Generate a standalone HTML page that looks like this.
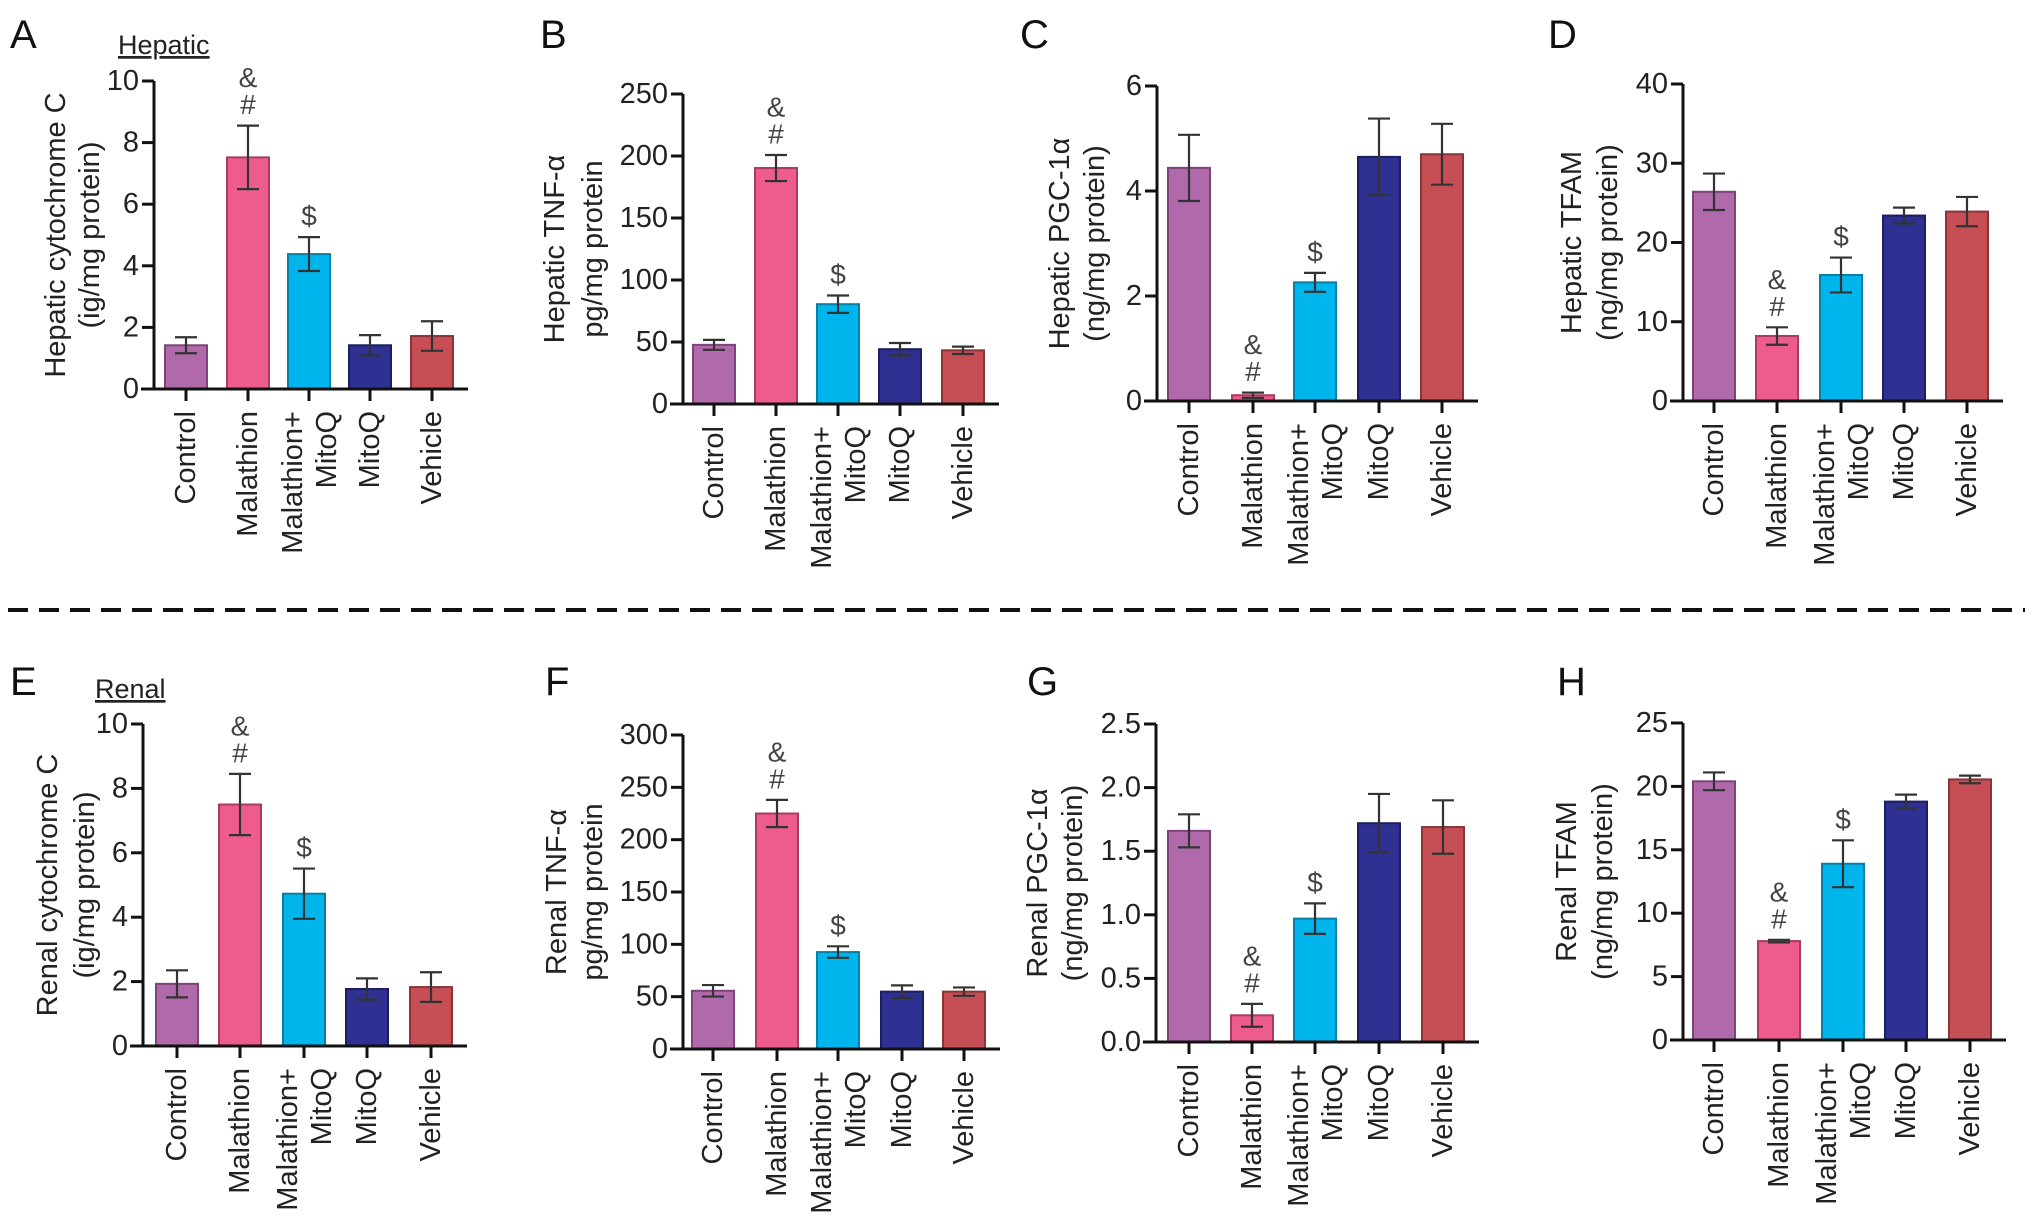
<!DOCTYPE html>
<html><head><meta charset="utf-8"><style>
html,body{margin:0;padding:0;background:#fff;}
svg{display:block;font-family:"Liberation Sans",Arial,sans-serif;}
</style></head><body>
<svg id="fig" width="2032" height="1227" viewBox="0 0 2032 1227" xmlns="http://www.w3.org/2000/svg">
<text x="10" y="48" font-size="40" fill="#111">A</text>
<text x="540" y="48" font-size="40" fill="#111">B</text>
<text x="1020" y="48" font-size="40" fill="#111">C</text>
<text x="1548" y="48" font-size="40" fill="#111">D</text>
<text x="10" y="695" font-size="40" fill="#111">E</text>
<text x="545" y="695" font-size="40" fill="#111">F</text>
<text x="1027" y="695" font-size="40" fill="#111">G</text>
<text x="1557" y="695" font-size="40" fill="#111">H</text>
<text x="118" y="54" font-size="27" fill="#222" text-decoration="underline">Hepatic</text>
<text x="95" y="698" font-size="27" fill="#222" text-decoration="underline">Renal</text>
<line x1="8" y1="610" x2="2025" y2="610" stroke="#111" stroke-width="4" stroke-dasharray="20,11"/>
</svg>
<script>
const categories = ["Control","Malathion","Malathion+|MitoQ","MitoQ","Vehicle"];
const colors = ["#b06aab","#ee5c8b","#00b4ec","#2e3192","#c54f54"];
const edges = ["#7c4478","#a83c60","#0a7fa6","#1c1f5e","#8a3438"];

const aMeans = [1.42, 7.52, 4.38, 1.42, 1.72];
const aErr = [0.26, 1.03, 0.55, 0.33, 0.48];
const aTicks = [0, 2, 4, 6, 8, 10];
const bMeans = [47.7, 190.3, 80.5, 44.2, 43.3];
const bErr = [4, 10.5, 7, 5, 3];
const bTicks = [0, 50, 100, 150, 200, 250];
const cMeans = [4.44, 0.11, 2.26, 4.65, 4.70];
const cErr = [0.63, 0.05, 0.18, 0.73, 0.58];
const cTicks = [0, 2, 4, 6];
const dMeans = [26.4, 8.2, 15.9, 23.4, 23.9];
const dErr = [2.3, 1.1, 2.2, 1.0, 1.85];
const dTicks = [0, 10, 20, 30, 40];
const eMeans = [1.93, 7.5, 4.73, 1.77, 1.83];
const eErr = [0.42, 0.95, 0.78, 0.33, 0.46];
const eTicks = [0, 2, 4, 6, 8, 10];
const fMeans = [55.6, 225, 92.6, 54.8, 54.8];
const fErr = [5.5, 13, 5.5, 6, 4];
const fTicks = [0, 50, 100, 150, 200, 250, 300];
const gMeans = [1.66, 0.21, 0.97, 1.72, 1.69];
const gErr = [0.13, 0.09, 0.12, 0.23, 0.21];
const gTicks = ["0.0", "0.5", "1.0", "1.5", "2.0", "2.5"];
const hMeans = [20.4, 7.8, 13.9, 18.8, 20.55];
const hErr = [0.7, 0.1, 1.85, 0.55, 0.3];
const hTicks = [0, 5, 10, 15, 20, 25];
const markers = [[], ["&", "#"], ["$"], [], []];

const NS = "http://www.w3.org/2000/svg";
const svg = document.getElementById("fig");
function mk(tag, attrs, parent) {
  const el = document.createElementNS(NS, tag);
  for (const k in attrs) el.setAttribute(k, attrs[k]);
  (parent || svg).appendChild(el);
  return el;
}

const panels = [
  {id:"a", x0:154, y0:389, yTop:81, means:aMeans, err:aErr, ticks:aTicks, title:["Hepatic cytochrome C","(ig/mg protein)"], t1:-98, t2:-64, xs:[186,248,309,370,432]},
  {id:"b", x0:683, y0:404, yTop:94, means:bMeans, err:bErr, ticks:bTicks, title:["Hepatic TNF-\u03b1","pg/mg protein"], t1:-128, t2:-90, xs:[714,776,838,900,963]},
  {id:"c", x0:1157, y0:401, yTop:86, means:cMeans, err:cErr, ticks:cTicks, title:["Hepatic PGC-1\u03b1","(ng/mg protein)"], t1:-97, t2:-62, xs:[1189,1253,1315,1379,1442]},
  {id:"d", x0:1683, y0:401, yTop:84, means:dMeans, err:dErr, ticks:dTicks, title:["Hepatic TFAM","(ng/mg protein)"], t1:-111, t2:-75, xs:[1714,1777,1841,1904,1967]},
  {id:"e", x0:143, y0:1046, yTop:724, means:eMeans, err:eErr, ticks:eTicks, title:["Renal cytochrome C","(ig/mg protein)"], t1:-95, t2:-58, xs:[177,240,304,367,431]},
  {id:"f", x0:683, y0:1049, yTop:735, means:fMeans, err:fErr, ticks:fTicks, title:["Renal TNF-\u03b1","pg/mg protein"], t1:-126, t2:-90, xs:[713,777,838,902,964]},
  {id:"g", x0:1156, y0:1042, yTop:724, means:gMeans, err:gErr, ticks:gTicks, title:["Renal PGC-1\u03b1","(ng/mg protein)"], t1:-118, t2:-83, xs:[1189,1252,1315,1379,1443]},
  {id:"h", x0:1683, y0:1040, yTop:723, means:hMeans, err:hErr, ticks:hTicks, title:["Renal TFAM","(ng/mg protein)"], t1:-116, t2:-80, xs:[1714,1779,1843,1906,1970]}
];

panels.forEach(p => {
  const g = mk("g", {});
  
  
  const tickVals = p.ticks.map(Number);
  const maxV = tickVals[tickVals.length - 1];
  const y = v => p.y0 - (v / maxV) * (p.y0 - p.yTop);
  const x = i => p.xs[i];
  const bw = 42;
  p.means.forEach((m, i) => {
    const r = mk("rect", {x: x(i) - bw/2, y: y(m), width: bw, height: p.y0 - y(m), fill: colors[i], stroke: edges[i], "stroke-width": 2}, g);
    
    
    const top = y(m + p.err[i]), bot = y(m - p.err[i]);
    const eb = mk("path", {d: `M${x(i)} ${top}V${bot}M${x(i)-11} ${top}H${x(i)+11}M${x(i)-11} ${bot}H${x(i)+11}`, stroke: "#333", "stroke-width": 2.2, fill: "none"}, g);
    
    
    const mks = markers[i];
    mks.forEach((s, k) => {
      const off = (mks.length - k) * 27 - 6;
      const t = mk("text", {x: x(i), y: top - off, "font-size": 28, fill: "#444", "text-anchor": "middle", "dominant-baseline": "central"}, g);
      t.textContent = s;
      
      
    });
  });
  const ax = mk("path", {d: `M${p.x0} ${p.yTop}V${p.y0}M${p.x0-13} ${p.y0}H${x(4)+36}`, stroke: "#111", "stroke-width": 3, fill: "none"}, g);
  
  
  p.ticks.forEach(tv => {
    const yy = y(Number(tv));
    mk("line", {x1: p.x0 - 12, x2: p.x0, y1: yy, y2: yy, stroke: "#111", "stroke-width": 3}, g);
    const t = mk("text", {x: p.x0 - 15, y: yy, "font-size": 29, fill: "#222", "text-anchor": "end", "dominant-baseline": "central"}, g);
    t.textContent = tv;
    
    
  });
  categories.forEach((c, i) => {
    mk("line", {x1: x(i), x2: x(i), y1: p.y0, y2: p.y0 + 12, stroke: "#111", "stroke-width": 3}, g);
    const parts = c.split("|");
    const offs = parts.length === 1 ? [0] : [-16, 18];
    parts.forEach((s, k) => {
      const cx = x(i) + offs[k], cy = p.y0 + 22;
      const t = mk("text", {x: cx, y: cy, "font-size": 29, fill: "#222", "text-anchor": "end", "dominant-baseline": "central", transform: `rotate(-90 ${cx} ${cy})`}, g);
      t.textContent = s;
      
      
    });
  });
  const mid = (p.y0 + p.yTop) / 2;
  [[p.title[0], p.t1], [p.title[1], p.t2]].forEach(([s, o]) => {
    const cx = p.x0 + o;
    const t = mk("text", {x: cx, y: mid, "font-size": 29, fill: "#222", "text-anchor": "middle", "dominant-baseline": "central", transform: `rotate(-90 ${cx} ${mid})`}, g);
    t.textContent = s;
    
    
  });
});
</script>
</body></html>
